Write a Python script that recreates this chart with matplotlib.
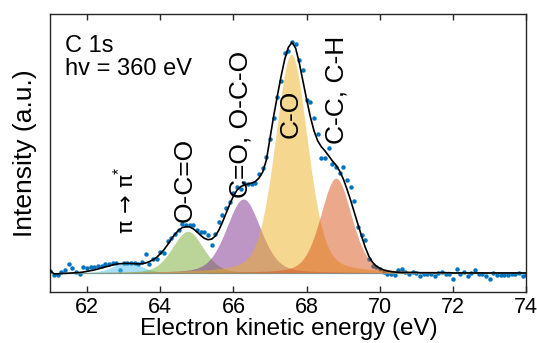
import numpy as np
import matplotlib
matplotlib.use("Agg")
import matplotlib.pyplot as plt

plt.rcParams["font.family"] = ["Liberation Sans", "DejaVu Sans"]
plt.rcParams["mathtext.fontset"] = "custom"
plt.rcParams["mathtext.rm"] = "Liberation Sans"
plt.rcParams["mathtext.it"] = "Liberation Sans"

# ── measured spectrum (0.1 eV steps) ──
energy = np.round(np.arange(61.0, 74.05, 0.1), 1)
counts = [
    0.008, -0.008, -0.007, 0.003, 0.012, 0.040, 0.023, 0.003, -0.003, 0.025,
    0.023, 0.025, 0.025, 0.028, 0.028, 0.037, 0.040, 0.043, 0.043, 0.014,
    0.043, 0.045, 0.043, 0.043, 0.037, 0.046, 0.080, 0.040, 0.062, 0.059,
    0.089, 0.085, 0.140, 0.150, 0.170, 0.185, 0.211, 0.207, 0.207, 0.207,
    0.185, 0.177, 0.177, 0.163, 0.120, 0.170, 0.221, 0.250, 0.279, 0.308,
    0.344, 0.373, 0.362, 0.388, 0.385, 0.385, 0.390, 0.430, 0.455, 0.500,
    0.580, 0.670, 0.760, 0.830, 0.950, 0.960, 1.000, 0.990, 0.920, 0.880,
    0.750, 0.740, 0.670, 0.600, 0.497, 0.497, 0.540, 0.470, 0.460, 0.431,
    0.460, 0.400, 0.373, 0.310, 0.200, 0.165, 0.141, 0.062, 0.030, 0.025,
    0.018, 0.003, -0.003, -0.003, -0.007, 0.012, 0.018, 0.005, -0.003, 0.003,
    0.000, -0.014, -0.003, -0.003, -0.005, -0.015, 0.001, 0.002, -0.003, -0.004,
    -0.025, 0.015, -0.003, 0.003, -0.014, 0.000, 0.014, -0.003, -0.004, -0.015,
    -0.025, 0.001, -0.008, -0.008, -0.008, -0.007, -0.005, -0.003, -0.001, -0.015,
    -0.010,
]

# fitted envelope, same energy grid
envelope = [
    0.009, -0.004, -0.004, -0.002, -0.002, -0.001, 0.000, 0.001, 0.002, 0.004,
    0.007, 0.010, 0.013, 0.017, 0.022, 0.026, 0.030, 0.035, 0.038, 0.040,
    0.041, 0.041, 0.041, 0.040, 0.039, 0.040, 0.043, 0.049, 0.057, 0.067,
    0.083, 0.100, 0.122, 0.146, 0.167, 0.185, 0.196, 0.200, 0.199, 0.191,
    0.178, 0.163, 0.150, 0.144, 0.146, 0.159, 0.185, 0.220, 0.259, 0.298,
    0.333, 0.359, 0.374, 0.380, 0.385, 0.389, 0.396, 0.411, 0.437, 0.489,
    0.585, 0.680, 0.767, 0.850, 0.924, 0.976, 0.998, 0.972, 0.907, 0.828,
    0.750, 0.676, 0.615, 0.572, 0.546, 0.528, 0.507, 0.485, 0.467, 0.441,
    0.407, 0.363, 0.315, 0.263, 0.211, 0.159, 0.111, 0.072, 0.046, 0.030,
    0.020, 0.013, 0.009, 0.006, 0.004, 0.003, 0.002, 0.002, 0.002, 0.002,
    0.002, 0.001, 0.001, 0.001, 0.001, 0.001, 0.001, 0.001, 0.001, 0.001,
    0.000, 0.000, 0.000, 0.000, 0.000, 0.000, 0.000, 0.000, 0.000, 0.000,
    0.000, 0.000, 0.000, 0.000, 0.000, 0.000, 0.000, 0.000, 0.000, 0.000,
    0.000,
]

# ── fitted components (pseudo-Voigt) ──
peak_labels = ["π → π$^{*}$", "O-C=O", "C=O, O-C-O", "C-O", "C-C, C-H"]
peak_centers = [63.1, 64.75, 66.27, 67.58, 68.8]
peak_heights = [0.047, 0.18, 0.32, 0.945, 0.41]
peak_fwhm = [0.9, 1.0, 1.1, 1.05, 1.0]
peak_colors = ["#4DBEEE", "#77AC30", "#7E2F8E", "#EDB120", "#D95319"]
label_x = [63.02, 64.68, 66.19, 67.57, 68.82]
label_y = [0.17, 0.22, 0.325, 0.585, 0.56]
label_size = [16, 19, 19, 19, 19]
eta = 0.3


def pseudo_voigt(x, x0, h, fwhm):
    r2 = ((x - x0) / (fwhm / 2)) ** 2
    return h * ((1 - eta) * np.exp(-np.log(2) * r2) + eta / (1 + r2))


fig = plt.figure(figsize=(5.37, 3.43), dpi=100)
ax = fig.add_axes([0.094, 0.149, 0.886, 0.810])

ax.plot(energy, counts, "o", color="#0072BD", ms=3.2, mec="none", zorder=1)

xs = np.linspace(61, 74, 800)
ax.axhline(0, color="#4DBEEE", lw=0.9, zorder=2)
for c, h, w, col in zip(peak_centers, peak_heights, peak_fwhm, peak_colors):
    ax.fill_between(xs, 0, pseudo_voigt(xs, c, h, w), color=col, alpha=0.5, lw=0, zorder=2)

ax.plot(energy, envelope, color="black", lw=1.2, zorder=3)

for lab, lx, ly, fs in zip(peak_labels, label_x, label_y, label_size):
    fam = ["DejaVu Sans"] if lab.startswith("π") else ["Liberation Sans", "DejaVu Sans"]
    ax.text(lx, ly, lab, rotation=90, ha="center", va="bottom", fontsize=fs, family=fam)

ax.text(0.03, 0.925, "C 1s\nhv = 360 eV", transform=ax.transAxes,
        ha="left", va="top", fontsize=17, linespacing=1.05)

ax.set_xlim(61, 74)
ax.set_ylim(-0.082, 1.12)
ax.set_xticks(range(62, 75, 2))
ax.set_yticks([])
ax.tick_params(axis="x", direction="in", top=True, length=4, width=1,
               labelsize=15.5, colors="#262626", labelcolor="black", pad=4)
for s in ax.spines.values():
    s.set_color("#262626")
    s.set_linewidth(1)
ax.set_xlabel("Electron kinetic energy (eV)", fontsize=17.5, labelpad=0)
ax.set_ylabel("Intensity (a.u.)", fontsize=19, labelpad=10)

fig.savefig("out.png", dpi=100)
